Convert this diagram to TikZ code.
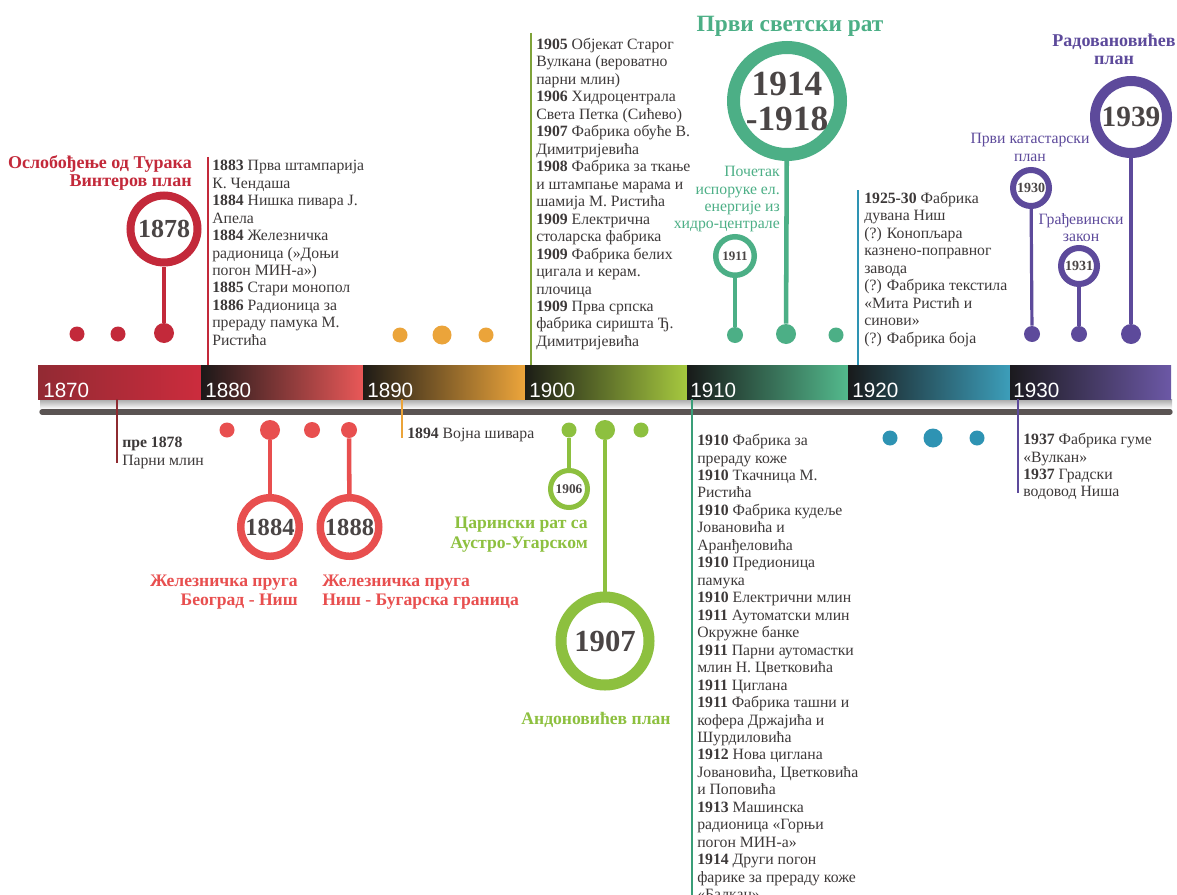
\documentclass[tikz,border=0pt]{standalone}
\usepackage{fontspec}
\setmainfont{Liberation Serif}
\setsansfont{Liberation Sans}

\definecolor{ink}{HTML}{3D3939}
\definecolor{numink}{HTML}{4A4545}
\definecolor{crimson}{HTML}{C3293A}
\definecolor{maroon}{HTML}{8E2B30}
\definecolor{coral}{HTML}{E84F4F}
\definecolor{amber}{HTML}{EBA43A}
\definecolor{olive}{HTML}{7FA33A}
\definecolor{lime}{HTML}{8DC03F}
\definecolor{jade}{HTML}{4CAF86}
\definecolor{jadeline}{HTML}{3A9E78}
\definecolor{ocean}{HTML}{2E93B3}
\definecolor{violet}{HTML}{5D4A9B}
\definecolor{axisgray}{HTML}{5A5453}

\tikzset{
  body/.style={anchor=north west, inner sep=0pt, align=left, text=ink,
    font=\fontsize{11.8}{13.1}\selectfont},
  heading/.style={inner sep=0pt, text=#1,
    font=\bfseries\fontsize{13.5}{14}\selectfont},
  caption/.style={inner sep=0pt, text=#1,
    font=\fontsize{11.8}{13.1}\selectfont},
  ring/.style n args={3}{circle, draw=#1, line width=#2, minimum size=#3,
    inner sep=0pt, text=numink},
  bead/.style={circle, fill=#1, inner sep=0pt, minimum size=11.25pt},
  bigbead/.style={bead=#1, minimum size=15pt},
  stalk/.style={draw=#1, line width=3.4pt},
  thinstalk/.style={draw=#1, line width=2.4pt},
  rule/.style={draw=#1, line width=2pt},
  decade/.style={anchor=base west, inner sep=0pt, text=white,
    font=\sffamily\fontsize{15.5}{15.5}\selectfont},
}

\begin{document}
\begin{tikzpicture}[x=0.75pt,y=-0.75pt]
\useasboundingbox (0,0) rectangle (1177,895);
\fill[white] (0,0) rectangle (1177,895);

% ---------- time axis ----------
\shade[top color=black!35, bottom color=white] (40,399) rectangle (1172,409);
\shade[left color={rgb,255:red,146;green,42;blue,51}, right color={rgb,255:red,204;green,44;blue,61}] (38,365) rectangle (201,399);
\shade[left color={rgb,255:red,28;green,24;blue,24}, right color={rgb,255:red,233;green,88;blue,88}] (201,365) rectangle (363,399);
\shade[left color={rgb,255:red,30;green,27;blue,22}, right color={rgb,255:red,237;green,165;blue,59}] (363,365) rectangle (525,399);
\shade[left color={rgb,255:red,28;green,29;blue,22}, right color={rgb,255:red,166;green,201;blue,63}] (525,365) rectangle (687,399);
\shade[left color={rgb,255:red,24;green,26;blue,25}, right color={rgb,255:red,83;green,186;blue,141}] (687,365) rectangle (848,399);
\shade[left color={rgb,255:red,24;green,26;blue,27}, right color={rgb,255:red,60;green,158;blue,186}] (848,365) rectangle (1010,399);
\shade[left color={rgb,255:red,27;green,26;blue,30}, right color={rgb,255:red,108;green,88;blue,166}] (1010,365) rectangle (1171,399);
\coordinate (bartop) at (0,365);
\coordinate (barbot) at (0,399);
\coordinate (axisL) at (42,412);
\coordinate (axisR) at (1170,412);
\draw[axisgray, line width=4pt, line cap=round] (axisL) -- (axisR);

\node[decade] (y1870) at (43,397) {1870};
\node[decade] (y1880) at (205,397) {1880};
\node[decade] (y1890) at (367,397) {1890};
\node[decade] (y1900) at (529,397) {1900};
\node[decade] (y1910) at (690,397) {1910};
\node[decade] (y1920) at (852,397) {1920};
\node[decade] (y1930) at (1013,397) {1930};

% ---------- 1870s ----------
\node[heading=crimson, anchor=north east, align=right] (tLib) at (192,155)
  {Ослобођење од Турака\\Винтеров план};
\node[ring={crimson}{6pt}{50.25pt}, font=\bfseries\fontsize{19.5}{19.5}\selectfont] (c1878) at (164,229) {1878};
\node[bead=crimson] (d1870a) at (77,334) {};
\node[bead=crimson] (d1870b) at (118,334) {};
\node[bigbead=crimson] (d1878) at (164,333) {};
\draw[stalk=crimson] (d1878) -- (c1878);

\coordinate (r1880) at (208,157);
\draw[rule=crimson] (r1880) -- (r1880 |- bartop);
\node[body] (b1880) at (212,160) {\textbf{1883} Прва штампарија\\К. Чендаша\\\textbf{1884} Нишка пивара Ј.\\Апела\\\textbf{1884} Железничка\\радионица (»Доњи\\погон МИН-а»)\\\textbf{1885} Стари монопол\\\textbf{1886} Радионица за\\прераду памука М.\\Ристића};

\coordinate (r1878) at (117,463);
\draw[rule=maroon] (r1878 |- barbot) -- (r1878);
\node[body] (b1878) at (122,437) {\textbf{пре 1878}\\Парни млин};

% ---------- 1880s ----------
\node[bead=coral] (d1880a) at (227,430) {};
\node[bigbead=coral] (d1884) at (270,430) {};
\node[bead=coral, minimum size=12pt] (d1880b) at (312,430) {};
\node[bead=coral, minimum size=12pt] (d1888) at (349,430) {};
\node[ring={coral}{5.6pt}{43.9pt}, font=\bfseries\fontsize{18.4}{18.4}\selectfont] (c1884) at (270,527) {1884};
\node[ring={coral}{5.6pt}{43.9pt}, font=\bfseries\fontsize{18.4}{18.4}\selectfont] (c1888) at (349.5,527) {1888};
\draw[stalk=coral] (d1884) -- (c1884);
\draw[stalk=coral] (d1888) -- (c1888);
\node[heading=coral, anchor=north east, align=right, font=\bfseries\fontsize{13.2}{14.3}\selectfont] (tBG) at (298,575)
  {Железничка пруга\\Београд - Ниш};
\node[heading=coral, anchor=north west, align=left, font=\bfseries\fontsize{13.2}{14.3}\selectfont] (tNB) at (322,575)
  {Железничка пруга\\Ниш - Бугарска граница};

% ---------- 1890s ----------
\node[bead=amber] (d1890a) at (400,335) {};
\node[bigbead=amber, minimum size=14.25pt] (d1890b) at (442,335) {};
\node[bead=amber] (d1890c) at (486,335) {};
\coordinate (r1894) at (402,438);
\draw[rule=amber] (r1894 |- barbot) -- (r1894);
\node[body] (b1894) at (407,428) {\textbf{1894} Војна шивара};

% ---------- 1900s ----------
\coordinate (r1900) at (531,33);
\draw[rule=olive] (r1900) -- (r1900 |- bartop);
\node[body] (b1900) at (536,38) {\textbf{1905} Објекат Старог\\Вулкана (вероватно\\парни млин)\\\textbf{1906} Хидроцентрала\\Света Петка (Сићево)\\\textbf{1907} Фабрика обуће В.\\Димитријевића\\\textbf{1908} Фабрика за ткање\\и штампање марама и\\шамија М. Ристића\\\textbf{1909} Електрична\\столарска фабрика\\\textbf{1909} Фабрика белих\\цигала и керам.\\плочица\\\textbf{1909} Прва српска\\фабрика сиришта Ђ.\\Димитријевића};

\node[bead=lime] (d1906) at (569,430) {};
\node[bigbead=lime] (d1907) at (605,430) {};
\node[bead=lime] (d1900c) at (641,430) {};
\node[ring={lime}{3.75pt}{27.75pt}, font=\bfseries\fontsize{10}{10}\selectfont] (c1906) at (569,489) {1906};
\node[ring={lime}{8.25pt}{66pt}, font=\bfseries\fontsize{23}{23}\selectfont] (c1907) at (605,641) {1907};
\draw[thinstalk=lime] (d1906) -- (c1906);
\draw[stalk=lime] (d1907) -- (c1907);
\node[heading=lime, anchor=north east, align=right, font=\bfseries\fontsize{13.2}{15}\selectfont] (tCust) at (588,517)
  {Царински рат са\\Аустро-Угарском};
\node[heading=lime, anchor=base, font=\bfseries\fontsize{13.2}{14}\selectfont] (tAnd) at (596,724) {Андоновићев план};

% ---------- 1910s ----------
\node[heading=jade, anchor=base, font=\bfseries\fontsize{17.5}{17.5}\selectfont] (tWar) at (790,32) {Први светски рат};
\node[ring={jade}{9.75pt}{80.25pt}, align=center, font=\bfseries\fontsize{26.5}{26.25}\selectfont] (cWar) at (787,101) {1914\\-1918};
\node[ring={jade}{4.1pt}{28.9pt}, font=\bfseries\fontsize{9.75}{9.75}\selectfont] (c1911) at (735,256) {1911};
\node[caption=jade, anchor=north east, align=right] (tPow) at (780,166)
  {Почетак\\испоруке ел.\\енергије из\\хидро-централе};
\node[bead=jade, minimum size=12pt] (d1911) at (735,335) {};
\node[bigbead=jade] (dWar) at (786,334) {};
\node[bead=jade] (d1910c) at (836,335) {};
\draw[thinstalk=jade] (d1911) -- (c1911);
\draw[stalk=jade] (dWar) -- (cWar);

\coordinate (r1910) at (692,900);
\draw[rule=jadeline] (r1910 |- barbot) -- (r1910);
\node[body] (b1910) at (697,434) {\textbf{1910} Фабрика за\\прераду коже\\\textbf{1910} Ткачница М.\\Ристића\\\textbf{1910} Фабрика кудеље\\Јовановића и\\Аранђеловића\\\textbf{1910} Предионица\\памука\\\textbf{1910} Електрични млин\\\textbf{1911} Аутоматски млин\\Окружне банке\\\textbf{1911} Парни аутомастки\\млин Н. Цветковића\\\textbf{1911} Циглана\\\textbf{1911} Фабрика ташни и\\кофера Држајића и\\Шурдиловића\\\textbf{1912} Нова циглана\\Јовановића, Цветковића\\и Поповића\\\textbf{1913} Машинска\\радионица «Горњи\\погон МИН-а»\\\textbf{1914} Други погон\\фарике за прераду коже\\«Балкан»};

% ---------- 1920s ----------
\coordinate (r1920) at (858,190);
\draw[rule=ocean] (r1920) -- (r1920 |- bartop);
\node[body] (b1920) at (864,192) {\textbf{1925-30} Фабрика\\дувана Ниш\\(?) Конопљара\\казнено-поправног\\завода\\(?) Фабрика текстила\\«Мита Ристић и\\синови»\\(?) Фабрика боја};
\node[bead=ocean] (d1920a) at (890,438) {};
\node[bigbead=ocean, minimum size=14.25pt] (d1920b) at (933,438) {};
\node[bead=ocean] (d1920c) at (977,438) {};

% ---------- 1930s ----------
\node[heading=violet, anchor=north, align=center, font=\bfseries\fontsize{13.5}{13.5}\selectfont] (tRad) at (1114,34)
  {Радовановићев\\план};
\node[ring={violet}{7.5pt}{54pt}, font=\bfseries\fontsize{22}{22}\selectfont] (c1939) at (1131,117) {1939};
\node[caption=violet, anchor=north, align=center] (tCad) at (1030,133) {Први катастарски\\план};
\node[ring={violet}{4.5pt}{27pt}, font=\bfseries\fontsize{10.5}{10.5}\selectfont] (c1930) at (1031,188) {1930};
\node[caption=violet, anchor=north, align=center] (tLaw) at (1081,213) {Грађевински\\закон};
\node[ring={violet}{4.5pt}{27pt}, font=\bfseries\fontsize{10.5}{10.5}\selectfont] (c1931) at (1079,266) {1931};
\node[bead=violet, minimum size=12pt] (d1930) at (1032,334) {};
\node[bead=violet, minimum size=12pt] (d1931) at (1079,334) {};
\node[bigbead=violet] (d1939) at (1131,334) {};
\draw[thinstalk=violet] (d1930) -- (c1930);
\draw[thinstalk=violet] (d1931) -- (c1931);
\draw[stalk=violet] (d1939) -- (c1939);

\coordinate (r1937) at (1018,493);
\draw[rule=violet] (r1937 |- barbot) -- (r1937);
\node[body] (b1937) at (1023,433) {\textbf{1937} Фабрика гуме\\«Вулкан»\\\textbf{1937} Градски\\водовод Ниша};
\end{tikzpicture}
\end{document}
